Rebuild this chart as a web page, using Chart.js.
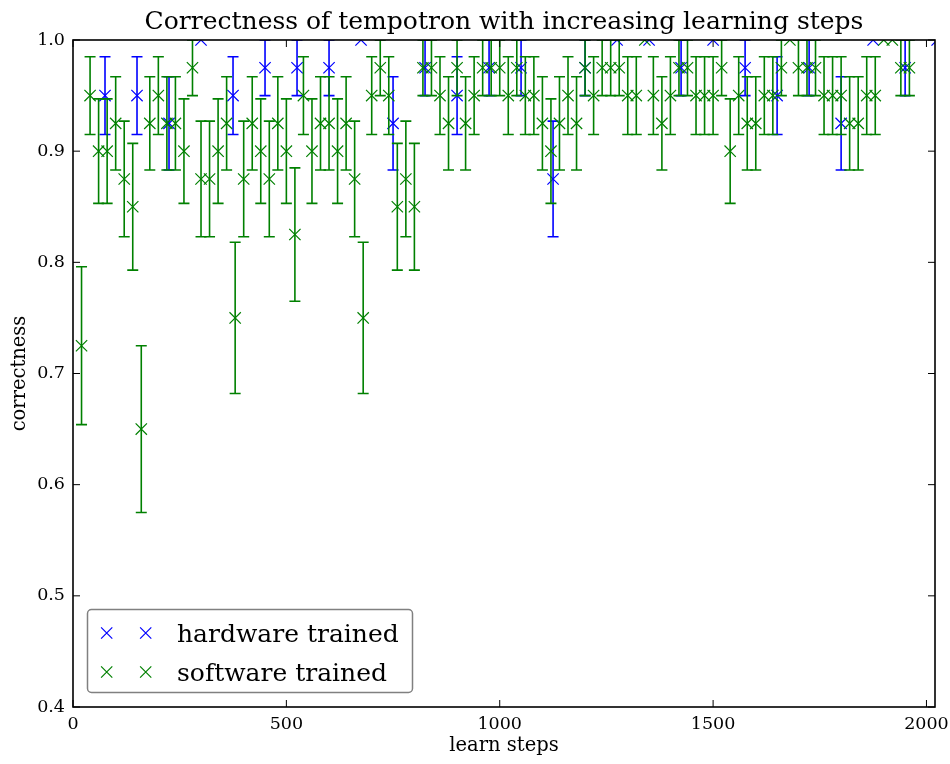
<!DOCTYPE html>
<html>
<head>
<meta charset="utf-8">
<title>Correctness of tempotron</title>
<script src="https://cdn.jsdelivr.net/npm/chart.js@4.4.1/dist/chart.umd.min.js"></script>
<style>
  html, body { margin: 0; padding: 0; background: #fff; }
</style>
</head>
<body>
<canvas id="chart" width="950" height="764"></canvas>
<script>
// learn steps at which each network was evaluated
const hardwareSteps = [75, 150, 225, 300, 375, 450, 525, 600, 675, 750, 825, 900, 975, 1050,
  1125, 1200, 1275, 1350, 1425, 1500, 1575, 1650, 1725, 1800, 1875, 1950, 2025];
const hardwareCorrect = [0.95, 0.95, 0.925, 1.0, 0.95, 0.975, 0.975, 0.975, 1.0, 0.925, 0.975, 0.95, 0.975, 0.975,
  0.875, 0.975, 1.0, 1.0, 0.975, 1.0, 0.975, 0.95, 0.975, 0.925, 1.0, 0.975, 1.0];

const softwareSteps = [20, 40, 60, 80, 100, 120, 140, 160, 180, 200, 220, 240, 260, 280, 300, 320, 340, 360, 380, 400,
  420, 440, 460, 480, 500, 520, 540, 560, 580, 600, 620, 640, 660, 680, 700, 720, 740, 760, 780, 800,
  820, 840, 860, 880, 900, 920, 940, 960, 980, 1000, 1020, 1040, 1060, 1080, 1100, 1120, 1140, 1160, 1180, 1200,
  1220, 1240, 1260, 1280, 1300, 1320, 1340, 1360, 1380, 1400, 1420, 1440, 1460, 1480, 1500, 1520, 1540, 1560, 1580, 1600,
  1620, 1640, 1660, 1680, 1700, 1720, 1740, 1760, 1780, 1800, 1820, 1840, 1860, 1880, 1900, 1920, 1940, 1960];
const softwareCorrect = [0.725, 0.95, 0.9, 0.9, 0.925, 0.875, 0.85, 0.65, 0.925, 0.95, 0.925, 0.925, 0.9, 0.975, 0.875, 0.875, 0.9, 0.925, 0.75, 0.875,
  0.925, 0.9, 0.875, 0.925, 0.9, 0.825, 0.95, 0.9, 0.925, 0.925, 0.9, 0.925, 0.875, 0.75, 0.95, 0.975, 0.95, 0.85, 0.875, 0.85,
  0.975, 0.975, 0.95, 0.925, 0.975, 0.925, 0.95, 0.975, 0.975, 0.975, 0.95, 0.975, 0.95, 0.95, 0.925, 0.9, 0.925, 0.95, 0.925, 0.975,
  0.95, 0.975, 0.975, 0.975, 0.95, 0.95, 1.0, 0.95, 0.925, 0.95, 0.975, 0.975, 0.95, 0.95, 0.95, 0.975, 0.9, 0.95, 0.925, 0.925,
  0.95, 0.95, 0.975, 1.0, 0.975, 0.975, 0.975, 0.95, 0.95, 0.95, 0.925, 0.925, 0.95, 0.95, 1.0, 1.0, 0.975, 0.975];

// half length of the error bar for each correctness level
const errorHalf = {
  '1.000': 0, '0.975': 0.025, '0.950': 0.035, '0.925': 0.042, '0.900': 0.047, '0.875': 0.052,
  '0.850': 0.057, '0.825': 0.060, '0.750': 0.068, '0.725': 0.071, '0.650': 0.075
};

const xTickValues = [0, 500, 1000, 1500, 2000];
const yTickValues = [0.4, 0.5, 0.6, 0.7, 0.8, 0.9, 1.0];

const seriesNames = ['hardware trained', 'software trained'];
const seriesColors = ['#0000ff', '#008000'];

const serif = '"DejaVu Serif", serif';
Chart.defaults.font.family = serif;
Chart.defaults.color = '#000';

function toPoints(steps, values) {
  return steps.map((s, i) => ({ x: s, y: values[i] }));
}

function drawCross(ctx, x, y, r) {
  ctx.beginPath();
  ctx.moveTo(x - r, y - r); ctx.lineTo(x + r, y + r);
  ctx.moveTo(x + r, y - r); ctx.lineTo(x - r, y + r);
  ctx.stroke();
}

// vertical error bars with caps, drawn just before each dataset's markers
const errorBars = {
  id: 'errorBars',
  beforeDatasetDraw(chart, args) {
    const { ctx, chartArea: a, scales: { x, y } } = chart;
    const ds = chart.data.datasets[args.index];
    const cap = 5.5;
    ctx.save();
    ctx.beginPath();
    ctx.rect(a.left, a.top, a.right - a.left, a.bottom - a.top);
    ctx.clip();
    ctx.strokeStyle = ds.borderColor;
    ctx.lineWidth = 1.6;
    ds.data.forEach(p => {
      const e = errorHalf[p.y.toFixed(3)];
      if (!e) return;
      const px = x.getPixelForValue(p.x);
      const top = y.getPixelForValue(p.y + e);
      const bot = y.getPixelForValue(p.y - e);
      ctx.beginPath();
      ctx.moveTo(px, top); ctx.lineTo(px, bot);
      ctx.moveTo(px - cap, top); ctx.lineTo(px + cap, top);
      ctx.moveTo(px - cap, bot); ctx.lineTo(px + cap, bot);
      ctx.stroke();
    });
    ctx.restore();
  }
};

// box, inward ticks on all four sides, title and legend
const frame = {
  id: 'frame',
  afterDraw(chart) {
    const { ctx, chartArea: a, scales: { x, y } } = chart;
    const tick = 7;
    ctx.save();
    ctx.strokeStyle = '#000';
    ctx.lineWidth = 1;
    ctx.beginPath();
    xTickValues.forEach(v => {
      const px = x.getPixelForValue(v);
      ctx.moveTo(px, a.bottom); ctx.lineTo(px, a.bottom - tick);
      ctx.moveTo(px, a.top); ctx.lineTo(px, a.top + tick);
    });
    yTickValues.forEach(v => {
      const py = y.getPixelForValue(v);
      ctx.moveTo(a.left, py); ctx.lineTo(a.left + tick, py);
      ctx.moveTo(a.right, py); ctx.lineTo(a.right - tick, py);
    });
    ctx.stroke();
    ctx.lineWidth = 1.6;
    ctx.strokeRect(a.left, a.top, a.right - a.left, a.bottom - a.top);

    ctx.fillStyle = '#000';
    ctx.font = '25px ' + serif;
    ctx.textAlign = 'center';
    ctx.textBaseline = 'alphabetic';
    ctx.fillText('Correctness of tempotron with increasing learning steps', (a.left + a.right) / 2, 29);

    // legend box in the lower left corner
    const bx = 87.5, by = 609.5, bw = 325, bh = 83;
    ctx.beginPath();
    ctx.roundRect(bx, by, bw, bh, 4);
    ctx.fillStyle = '#fff';
    ctx.fill();
    ctx.strokeStyle = '#808080';
    ctx.lineWidth = 1.5;
    ctx.stroke();
    ctx.font = '25px ' + serif;
    ctx.textAlign = 'left';
    seriesNames.forEach((name, i) => {
      const cy = 633 + i * 39;
      ctx.strokeStyle = seriesColors[i];
      ctx.lineWidth = 1.2;
      drawCross(ctx, 106.7, cy, 5.6);
      drawCross(ctx, 145.7, cy, 5.6);
      ctx.fillStyle = '#000';
      ctx.fillText(name, 177, cy + 9);
    });
    ctx.restore();
  }
};

const datasets = [
  { data: toPoints(hardwareSteps, hardwareCorrect), color: seriesColors[0], order: 2 },
  { data: toPoints(softwareSteps, softwareCorrect), color: seriesColors[1], order: 1 }
].map((d, i) => ({
  label: seriesNames[i],
  data: d.data,
  order: d.order,
  showLine: false,
  borderColor: d.color,
  backgroundColor: d.color,
  pointStyle: 'crossRot',
  pointRadius: 8,
  pointHoverRadius: 8,
  pointBorderWidth: 1.2,
  clip: 0
}));

new Chart(document.getElementById('chart'), {
  type: 'scatter',
  data: { datasets },
  options: {
    responsive: false,
    devicePixelRatio: 1,
    animation: false,
    events: [],
    layout: { autoPadding: false, padding: { top: 40, right: 15, left: 0, bottom: 0 } },
    plugins: { legend: { display: false }, tooltip: { enabled: false } },
    scales: {
      x: {
        type: 'linear',
        min: 0,
        max: 2020,
        afterFit: s => { s.height = 57; s.paddingLeft = 0; s.paddingRight = 0; },
        afterBuildTicks: s => { s.ticks = xTickValues.map(v => ({ value: v })); },
        grid: { display: false, drawTicks: false },
        border: { display: false },
        ticks: { padding: 7, font: { size: 17.5 }, maxRotation: 0, callback: v => String(v) },
        title: { display: true, text: 'learn steps', font: { size: 19.5 }, padding: { bottom: 6 } }
      },
      y: {
        type: 'linear',
        min: 0.4,
        max: 1.0,
        afterFit: s => { s.width = 73; s.paddingTop = 0; s.paddingBottom = 0; },
        afterBuildTicks: s => { s.ticks = yTickValues.map(v => ({ value: v })); },
        grid: { display: false, drawTicks: false },
        border: { display: false },
        ticks: { padding: 8, font: { size: 17.5 }, callback: v => v.toFixed(1) },
        title: { display: true, text: 'correctness', font: { size: 19.5 }, padding: { top: 8 } }
      }
    }
  },
  plugins: [errorBars, frame]
});
</script>
</body>
</html>
